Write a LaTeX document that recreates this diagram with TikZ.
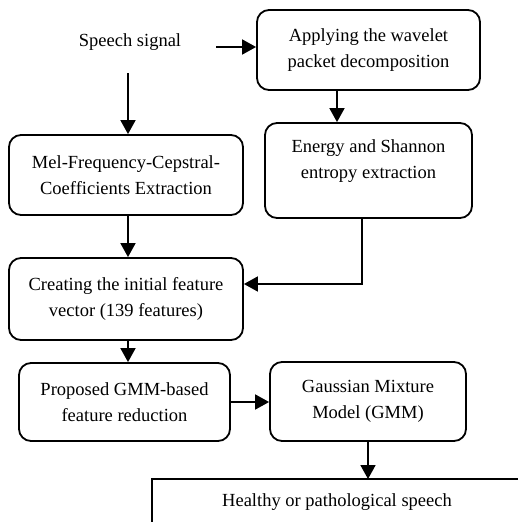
\documentclass[tikz,border=0pt]{standalone}
\usepackage{fontspec}
\setmainfont{Liberation Serif}
\usetikzlibrary{arrows.meta,calc}
\begin{document}
\begin{tikzpicture}[x=1pt,y=-1pt,
  every node/.style={font=\fontsize{18.5}{25.5}\selectfont, inner sep=0pt},
  box/.style={draw, line width=1.8pt, rounded corners=12pt, align=center},
  arr/.style={line width=1.8pt, -{Triangle[length=14pt,width=15pt]}},
  ln/.style={line width=1.8pt}]
\useasboundingbox (0,0) rectangle (518,522);
\node (S) at (130,42) {Speech signal};
\node[box, minimum width=223pt, minimum height=80pt] (A) at (368.5,50) {Applying the wavelet\\packet decomposition};
\node[box, minimum width=207pt, minimum height=95pt,
  label={[anchor=center, yshift=-39pt, align=center]north:Energy and Shannon\\entropy extraction}] (B) at (368.5,170.5) {};
\node[box, minimum width=234pt, minimum height=80pt] (M) at (126,175) {Mel-Frequency-Cepstral-\\Coefficients Extraction};
\node[box, minimum width=234pt, minimum height=82pt] (C) at (126,299) {Creating the initial feature\\vector (139 features)};
\node[box, minimum width=211pt, minimum height=78pt] (P) at (124.5,402) {Proposed GMM-based\\feature reduction};
\node[box, minimum width=196pt, minimum height=79pt] (G) at (368,401.5) {Gaussian Mixture\\Model (GMM)};
\node (R) at (337,502) {Healthy or pathological speech};
\coordinate (s1) at (216,47);
\coordinate (s2) at (128,73);
\coordinate (hb) at (368,479);
\draw[ln] (152,524) -- (152,479) -- (522,479);
\draw[arr] (s1) -- (s1 -| A.west);
\draw[arr] (s2) -- (s2 |- M.north);
\draw[arr] ([xshift=-31.5pt]A.south) -- ([xshift=-31.5pt]A.south |- B.north);
\draw[arr] ([xshift=-6.5pt]B.south) |- ([yshift=15pt]C.east);
\draw[arr] ([xshift=2pt]M.south) -- ([xshift=2pt]C.north);
\draw[arr] ([xshift=2pt]C.south) -- ([xshift=2pt]C.south |- P.north);
\draw[arr] (P.east) -- (P.east -| G.west);
\draw[arr] (G.south) -- (G.south |- hb);
\end{tikzpicture}
\end{document}
